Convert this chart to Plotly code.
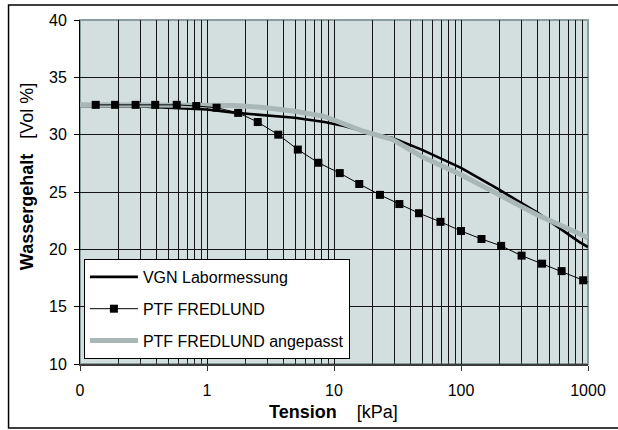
import plotly.graph_objects as go

# ---- data ----
vgn_tension = [0.1, 0.3, 0.6, 0.84, 1.0, 1.7, 2.9, 4.9, 8.4, 12, 17, 24, 29, 49, 100, 200, 400, 840, 1000]
vgn_theta = [32.5, 32.45, 32.3, 32.25, 32.2, 31.9, 31.7, 31.47, 31.1, 30.75, 30.3, 29.85, 29.7, 28.7, 27.1, 25.2, 23.2, 20.7, 20.2]

ptf_tension = [0.133, 0.189, 0.274, 0.391, 0.578, 0.823, 1.19, 1.76, 2.51, 3.64, 5.19, 7.53, 11.1, 15.8,
               23.0, 32.7, 46.7, 68.9, 100, 145, 207, 300, 435, 620, 916, 1320]
ptf_theta = [32.6, 32.6, 32.6, 32.6, 32.6, 32.5, 32.35, 31.9, 31.1, 30.0, 28.7, 27.55, 26.65, 25.7,
             24.75, 23.95, 23.15, 22.4, 21.6, 20.9, 20.3, 19.45, 18.75, 18.1, 17.3, 16.6]

fit_tension = [0.1, 0.84, 1.0, 1.7, 2.9, 4.9, 8.4, 12, 17, 29, 49, 100, 200, 400, 840, 1000]
fit_theta = [32.6, 32.63, 32.6, 32.55, 32.35, 32.05, 31.6, 31.0, 30.3, 29.57, 28.1, 26.5, 24.75, 23.0, 21.4, 21.0]

x_tickvals = [0.1, 1, 10, 100, 1000]
x_ticktext = ["0", "1", "10", "100", "1000"]
x_minorvals = [k * 10.0 ** d for d in range(-1, 3) for k in range(2, 10)]

# ---- layout geometry (pixels) ----
W, H = 618, 430
L, R, T, B = 80, 19, 20, 66
pw, ph = W - L - R, H - T - B


def px(xp):
    return (xp - L) / pw


def py(yp):
    return (H - B - yp) / ph


FONT = "Liberation Sans, Arial, sans-serif"

fig = go.Figure()
fig.add_trace(go.Scatter(
    x=vgn_tension, y=vgn_theta, mode="lines", name="VGN Labormessung",
    line=dict(color="black", width=2.6), legendgroup="g1", legendrank=1))
fig.add_trace(go.Scatter(
    x=fit_tension, y=fit_theta, mode="lines", name="PTF FREDLUND angepasst",
    line=dict(color="#a9b7b7", width=5), legendgroup="g3", legendrank=3))
fig.add_trace(go.Scatter(
    x=ptf_tension, y=ptf_theta, mode="lines+markers", name="PTF FREDLUND",
    line=dict(color="black", width=1),
    marker=dict(symbol="square", size=8, color="black"),
    legendgroup="g2", legendrank=2))

grid = "#141414"
fig.update_xaxes(
    type="log", range=[-1, 3],
    tickvals=x_tickvals, ticktext=x_ticktext,
    showgrid=True, gridcolor=grid, gridwidth=1,
    ticks="outside", ticklen=5, tickcolor="#333",
    showline=True, linecolor="#3a3a3a", linewidth=1.5,
    zeroline=False,
    tickfont=dict(family=FONT, size=16, color="black"),
    ticklabelstandoff=6,
    minor=dict(tickvals=x_minorvals, showgrid=True, gridcolor=grid, gridwidth=1,
               ticks="inside", ticklen=3, tickcolor="#333"),
)
fig.update_yaxes(
    range=[10, 40], tick0=10, dtick=5,
    showgrid=True, gridcolor=grid, gridwidth=1,
    ticks="outside", ticklen=5, tickcolor="black",
    showline=True, linecolor="black", linewidth=1,
    zeroline=False,
    tickfont=dict(family=FONT, size=16, color="black"),
    ticklabelstandoff=4,
)

fig.update_layout(
    width=W, height=H,
    margin=dict(l=L, r=R, t=T, b=B),
    paper_bgcolor="white", plot_bgcolor="#d3dfdf",
    font=dict(family=FONT, color="black"),
    showlegend=True,
    legend=dict(
        x=px(84), y=py(359), xanchor="left", yanchor="bottom",
        bgcolor="white", bordercolor="black", borderwidth=1,
        font=dict(family=FONT, size=16, color="black"),
        traceorder="grouped", tracegroupgap=8, itemwidth=48,
    ),
    shapes=[
        dict(type="rect", xref="paper", yref="paper", x0=0, x1=1, y0=0, y1=1,
             line=dict(color="#8a9e9e", width=2), layer="below"),
        dict(type="rect", xref="paper", yref="paper",
             x0=px(7), x1=px(640), y0=py(428), y1=py(5),
             line=dict(color="black", width=1.5), fillcolor="rgba(0,0,0,0)"),
    ],
    annotations=[
        dict(text="<b>Wassergehalt</b>&nbsp;&nbsp;&nbsp;[Vol %]", textangle=-90,
             xref="paper", yref="paper", x=px(26), y=py(177),
             xanchor="center", yanchor="middle", showarrow=False,
             font=dict(family=FONT, size=18, color="black")),
        dict(text="<b>Tension</b>&nbsp;&nbsp;&nbsp;&nbsp;[kPa]",
             xref="paper", yref="paper", x=px(339), y=py(412),
             xanchor="center", yanchor="middle", showarrow=False,
             font=dict(family=FONT, size=18, color="black")),
    ],
)

fig.write_html("out.html",
               config={"displayModeBar": False},
               post_script="document.body.style.margin='0';document.body.style.overflow='hidden';")
